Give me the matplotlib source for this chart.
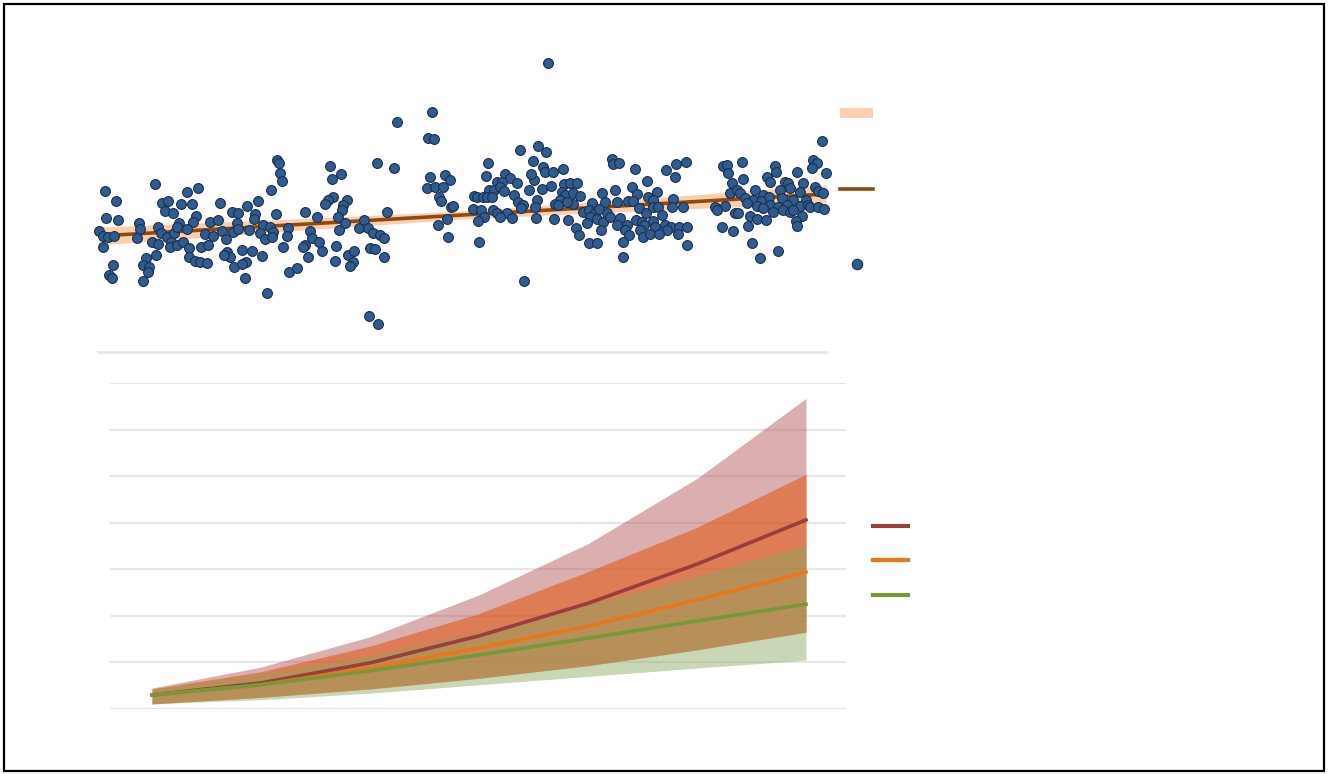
import numpy as np
import matplotlib
matplotlib.use("Agg")
import matplotlib.pyplot as plt
from matplotlib.patches import Rectangle, Patch
from matplotlib.lines import Line2D

obs_px = [105,116,155,187,198,162,168,181,192,165,173,220,232,238,106,118,139,196,193,179,210,218,237,99,103,108,114,140,137,158,161,167,174,177,187,205,213,222,226,233,238,103,152,158,171,170,177,183,189,201,208,156,146,189,195,200,207,227,230,224,234,113,143,149,148,109,112,143,
          277,279,280,282,330,332,341,377,271,258,247,255,254,276,305,317,333,328,325,347,343,342,338,387,263,270,249,260,273,288,310,345,339,359,364,368,373,380,384,265,272,287,312,305,303,319,322,283,336,370,375,242,252,262,308,348,354,384,335,353,350,246,242,289,297,245,267,369,378,
          397,432,428,434,394,488,520,538,533,430,445,450,427,435,443,439,441,451,453,486,505,510,517,497,502,489,494,500,504,474,477,483,487,492,529,534,531,514,518,523,537,473,481,493,497,507,521,535,484,478,500,512,536,447,438,448,479,524,548,
          546,612,613,619,635,666,676,686,675,543,545,553,563,647,542,551,564,570,577,562,565,573,580,602,615,632,637,657,648,653,673,683,560,555,558,573,567,592,605,617,628,633,639,646,653,658,672,583,589,595,599,607,590,597,603,610,620,636,642,653,662,554,568,587,617,627,644,655,665,671,679,667,687,576,601,640,579,625,629,643,650,659,678,623,589,597,687,623,
          822,723,727,742,728,732,743,775,776,767,770,797,813,817,812,826,785,788,790,803,815,818,823,730,737,740,755,763,769,780,782,800,745,753,761,793,806,747,757,770,778,787,800,808,810,715,725,717,763,773,783,790,793,818,824,735,738,750,757,766,802,796,797,748,722,733,752,778,760]
obs_py = [191,201,184,192,188,203,201,204,204,211,213,203,212,213,218,220,223,216,222,223,222,220,223,231,236,237,236,229,238,227,233,237,233,227,229,234,236,231,239,232,229,247,242,244,242,247,245,242,248,247,245,255,258,257,261,262,263,252,257,255,267,265,265,267,272,275,278,281,
          160,163,173,181,166,179,174,163,190,201,206,214,219,214,212,217,197,200,204,200,205,210,217,212,225,227,230,233,232,228,231,223,230,228,220,228,233,235,238,239,237,236,238,245,247,242,251,247,246,248,249,250,251,256,257,255,251,257,261,262,266,262,264,272,268,278,293,316,324,
          122,112,138,139,168,163,150,146,161,177,175,180,188,187,187,197,201,207,206,176,174,178,183,182,182,190,190,187,191,196,197,197,197,197,190,180,174,195,202,205,200,209,210,210,213,213,208,207,217,221,217,218,218,219,225,237,242,281,63,
          152,159,164,163,169,170,164,162,177,167,172,172,169,181,189,186,184,183,183,192,195,193,196,193,190,187,194,192,197,200,199,207,200,204,205,204,202,203,202,202,201,201,208,213,207,207,207,212,210,213,209,213,217,219,222,217,218,220,222,221,215,219,220,223,225,225,225,227,225,227,227,230,227,228,230,230,235,230,235,237,234,234,234,242,243,243,245,257,
          141,166,165,162,173,183,179,166,172,177,182,172,160,163,168,173,182,183,188,183,187,191,193,193,190,193,190,195,197,190,198,192,198,200,201,200,200,203,206,205,207,205,206,205,207,207,206,210,208,212,210,212,210,207,209,213,213,216,219,220,216,221,226,226,227,231,243,251,258]
obs_x = np.array(obs_px, dtype=float)
obs_y = 400.0 - np.array(obs_py, dtype=float)

# fitted trend and its confidence band (top panel)
fit_x = [99, 281, 463, 645, 826]
fit_y = [164.0, 174.5, 185.0, 195.5, 206.0]
fit_lo = [155.0, 168.5, 181.0, 189.5, 197.0]
fit_hi = [173.0, 180.5, 189.0, 201.5, 215.0]

# ---------------- data: projections (bottom panel) ----------------
years = [2020, 2025, 2030, 2035, 2040, 2045, 2050]
red_mid = [0.30, 0.56, 0.99, 1.57, 2.27, 3.11, 4.06]
red_lo = [0.11, 0.25, 0.43, 0.66, 0.93, 1.27, 1.65]
red_hi = [0.45, 0.90, 1.55, 2.45, 3.55, 4.95, 6.67]
org_mid = [0.30, 0.52, 0.88, 1.31, 1.78, 2.34, 2.94]
org_lo = [0.11, 0.25, 0.43, 0.66, 0.93, 1.27, 1.65]
org_hi = [0.43, 0.80, 1.35, 2.05, 2.95, 3.90, 5.04]
grn_mid = [0.30, 0.52, 0.82, 1.16, 1.52, 1.89, 2.25]
grn_lo = [0.11, 0.20, 0.34, 0.52, 0.70, 0.88, 1.05]
grn_hi = [0.43, 0.75, 1.15, 1.65, 2.25, 2.85, 3.52]
y_grid = [0, 1, 2, 3, 4, 5, 6, 7]

W, H = 1328, 774
fig = plt.figure(figsize=(W / 100, H / 100), dpi=100)
fig.patch.set_facecolor("white")

def fx(px):
    return px / W

def fy(py):
    return 1 - py / H

# ---------------- top panel ----------------
ax1 = fig.add_axes([fx(98), fy(352), fx(826) - fx(98), fy(50) - fy(352)])
ax1.set_xlim(98, 826)
ax1.set_ylim(400 - 352, 400 - 50)
for s in ["top", "right", "left"]:
    ax1.spines[s].set_visible(False)
ax1.spines["bottom"].set_color("#e6e6e6")
ax1.spines["bottom"].set_linewidth(2)
ax1.set_xticks([])
ax1.set_yticks([])

band_col = "#f9c7a0"
line_col = "#8f4a12"
pt_col = "#2f5b8f"
pt_edge = "#1b2f4c"
ax1.fill_between(fit_x, fit_lo, fit_hi, color=band_col, alpha=0.85, lw=0, zorder=1)
ax1.plot(fit_x, fit_y, color=line_col, lw=2.6, zorder=2, solid_capstyle="butt")
ax1.scatter(obs_x, obs_y, s=50, color=pt_col, edgecolor=pt_edge, linewidth=0.8,
            zorder=3, clip_on=False)

h_band = Patch(facecolor="#fbd0b0", edgecolor="none")
h_line = Line2D([], [], color=line_col, lw=2.6)
h_pts = Line2D([], [], ls="none", marker="o", markersize=7.5, markerfacecolor=pt_col,
               markeredgecolor=pt_edge, markeredgewidth=0.8)
fig.legend([h_band, h_line, h_pts], ["", "", ""], loc="upper left",
           bbox_to_anchor=(fx(840), fy(107)), frameon=False, borderpad=0,
           borderaxespad=0, handlelength=2.38, handletextpad=0.3,
           labelspacing=4.42, fontsize=10)

# ---------------- bottom panel ----------------
ax2 = fig.add_axes([fx(110), fy(709), fx(846) - fx(110), fy(383) - fy(709)])
ax2.set_xlim(2020 - 42 / 21.8, 2050 + 40 / 21.8)
ax2.set_ylim(0, 7)
for s in ax2.spines.values():
    s.set_visible(False)
ax2.set_yticks(y_grid)
ax2.set_xticks([])
ax2.tick_params(left=False, labelleft=False)
ax2.grid(axis="y", color="#e6e6e6", lw=1.6)
ax2.set_axisbelow(True)

c_red, c_org, c_grn = "#993d3d", "#e8761c", "#76983a"
ax2.fill_between(years, red_lo, red_hi, color="#b86060", alpha=0.5, lw=0, zorder=1)
ax2.fill_between(years, org_lo, org_hi, color="#e05a1a", alpha=0.6, lw=0, zorder=1)
ax2.fill_between(years, grn_lo, grn_hi, color="#8aa860", alpha=0.45, lw=0, zorder=1)
ax2.plot(years, red_mid, color=c_red, lw=2.6, zorder=3)
ax2.plot(years, org_mid, color=c_org, lw=2.6, zorder=3)
ax2.plot(years, grn_mid, color=c_grn, lw=2.6, zorder=3)

hl = [Line2D([], [], color=c, lw=3) for c in (c_red, c_org, c_grn)]
fig.legend(hl, ["", "", ""], loc="upper left", bbox_to_anchor=(fx(873), fy(520)),
           frameon=False, borderpad=0, borderaxespad=0, handlelength=2.5,
           handletextpad=0.3, labelspacing=1.46, fontsize=10)

# outer frame
fig.patches.append(Rectangle((fx(4), fy(771)), fx(1324) - fx(4), fy(4) - fy(771),
                             transform=fig.transFigure, fill=False, edgecolor="black",
                             lw=1.6))

fig.savefig("out.png", dpi=100)
